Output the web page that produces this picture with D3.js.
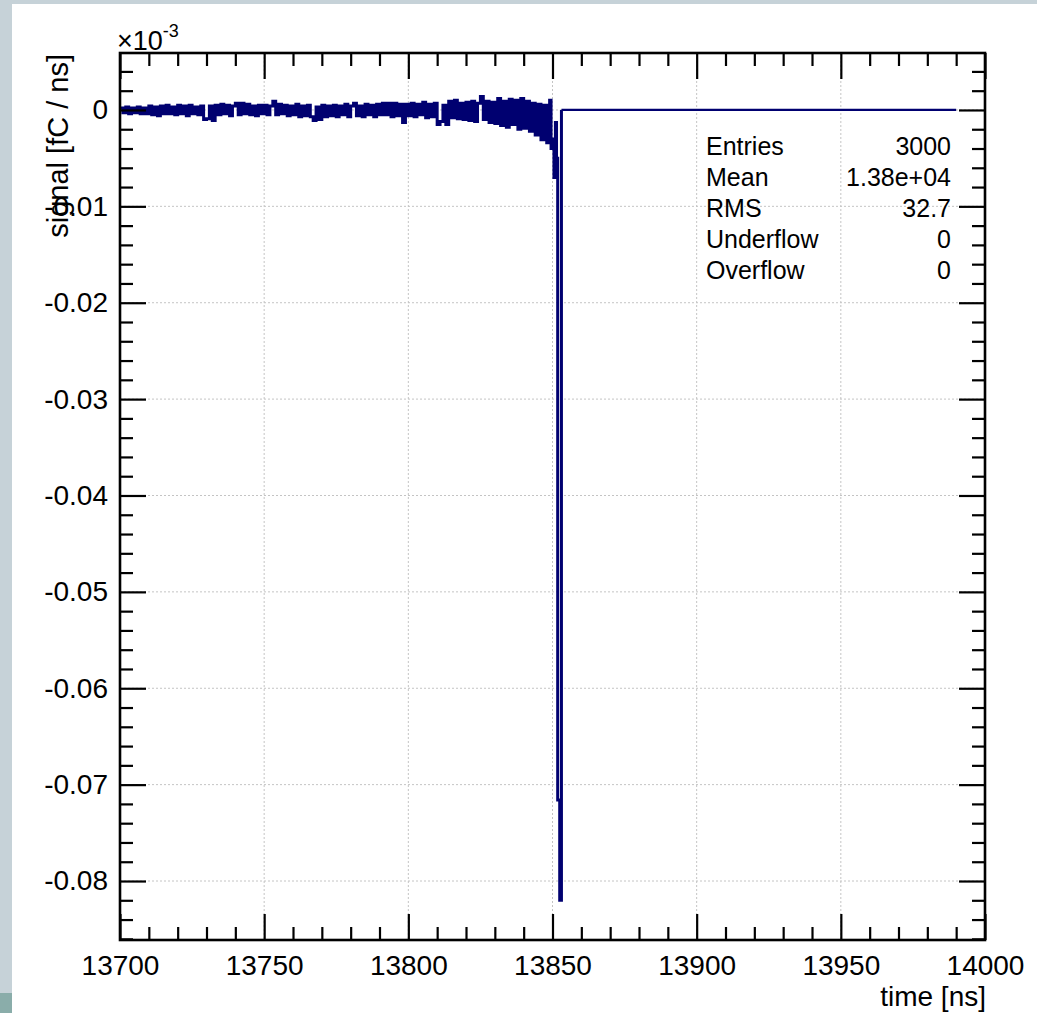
<!DOCTYPE html>
<html lang="en">
  <head>
    <meta charset="UTF-8" />
    <title>signal</title>
    <script src="https://d3js.org/d3.v7.min.js"></script>
    <style>
      body { margin: 0; background: #c6d2d8; }
      text { font-family: "Liberation Sans", Arial, sans-serif; }
    </style>
  </head>
  <body>
    <div id="graph"></div>
    <script>
      // tick labels
      const xTicks = [13700, 13750, 13800, 13850, 13900, 13950, 14000];
      const yTicks = [0, -0.01, -0.02, -0.03, -0.04, -0.05, -0.06, -0.07, -0.08];

      // 1 ns bins starting at 13700 (signal x 1e-3 fC/ns)
      const baseStart = 13700;
      const baseline = [
        0.0002, -0.0003, 0.0003, -0.0004, 0.0002, -0.0003, 0.0003, -0.0004, 0.0002, -0.0004,
        0.0004, -0.0005, 0.0003, -0.0006, 0.0004, -0.0004, 0.0005, -0.0004, 0.0003, -0.0005,
        0.0005, -0.0004, 0.0004, -0.0006, 0.0005, -0.0004, 0.0003, -0.0005, 0.0004, -0.0010,
        -0.0009, 0.0004, -0.0011, 0.0005, -0.0005, 0.0006, -0.0004, 0.0005, -0.0006, 0.0004,
        0.0007, -0.0005, 0.0007, -0.0004, 0.0006, -0.0005, 0.0004, -0.0006, 0.0005, -0.0004,
        0.0005, -0.0005, 0.0004, 0.0009, -0.0005, 0.0006, -0.0004, 0.0005, -0.0006, 0.0004,
        -0.0005, 0.0006, -0.0007, 0.0004, -0.0006, 0.0005, -0.0007, -0.0011, 0.0003, -0.0010,
        0.0005, -0.0007, 0.0004, -0.0006, 0.0005, -0.0007, 0.0004, -0.0005, 0.0006, -0.0007,
        0.0004, 0.0007, -0.0006, 0.0004, -0.0007, 0.0006, -0.0005, 0.0005, -0.0007, 0.0006,
        -0.0005, 0.0007, -0.0005, 0.0007, -0.0007, 0.0007, -0.0006, 0.0006, -0.0013, 0.0006,
        -0.0006, 0.0007, -0.0007, 0.0006, -0.0005, 0.0008, -0.0008, 0.0006, -0.0007, 0.0007,
        -0.0015, -0.0012, 0.0005, -0.0015, 0.0009, -0.0008, 0.0010, -0.0009, 0.0007, -0.0010,
        0.0008, -0.0011, 0.0009, -0.0012, 0.0007, 0.0014, -0.0010, 0.0009, -0.0013, 0.0008,
        -0.0014, 0.0012, -0.0016, 0.0009, -0.0018, 0.0011, -0.0015, 0.0010, -0.0020, 0.0012,
        -0.0019, 0.0009, -0.0022, 0.0007, -0.0026, 0.0006, -0.0031, 0.0005, -0.0034
      ];

      // the pulse, finer bins
      const pulseTime = [13849, 13849.5, 13850, 13850.5, 13851, 13851.4, 13851.8, 13852.5, 13853.1];
      const pulseValue = [0.0010, -0.0040, -0.0030, -0.0070, -0.0013, -0.0050, -0.0716, -0.0820, 0];
      const lastTime = 13990;

      const statNames = ["Entries", "Mean", "RMS", "Underflow", "Overflow"];
      const statValues = ["3000", "1.38e+04", "32.7", "0", "0"];

      var margin = { top: 53, right: 52, bottom: 73, left: 120 },
        width = 1037 - margin.left - margin.right,
        height = 1013 - margin.top - margin.bottom;

      var root = d3
        .select("#graph")
        .append("svg")
        .attr("width", 1037)
        .attr("height", 1013);

      // pad colours around the white canvas
      root.append("rect").attr("width", 1037).attr("height", 1013).attr("fill", "#c6d2d8");
      root.append("rect").attr("x", 0).attr("y", 993).attr("width", 12).attr("height", 20).attr("fill", "#8aadaa");
      root.append("rect").attr("x", 12).attr("y", 4).attr("width", 1025).attr("height", 1009).attr("fill", "white");

      var svg = root
        .append("g")
        .attr("transform", "translate(" + margin.left + "," + margin.top + ")");

      const x = d3.scaleLinear().domain([13700, 14000]).range([0, width]);
      const y = d3.scaleLinear().domain([-0.08612, 0.00591]).range([height, 0]);

      // grid
      svg
        .selectAll(".gx")
        .data(xTicks.slice(1, -1))
        .enter()
        .append("line")
        .attr("x1", (d) => x(d))
        .attr("x2", (d) => x(d))
        .attr("y1", 0)
        .attr("y2", height)
        .attr("stroke", "#c4c4c4")
        .attr("stroke-dasharray", "2,2");
      svg
        .selectAll(".gy")
        .data(yTicks)
        .enter()
        .append("line")
        .attr("x1", 0)
        .attr("x2", width)
        .attr("y1", (d) => y(d))
        .attr("y2", (d) => y(d))
        .attr("stroke", "#c4c4c4")
        .attr("stroke-dasharray", "2,2");

      // histogram as a step line
      var points = baseline.map((v, i) => [baseStart + i, v]);
      pulseTime.forEach((t, i) => points.push([t, pulseValue[i]]));
      var tail = [[pulseTime[pulseTime.length - 1], 0], [lastTime, 0]];

      var step = d3
        .line()
        .x((d) => x(d[0]))
        .y((d) => y(d[1]))
        .curve(d3.curveStepAfter);

      svg
        .append("path")
        .datum(points)
        .attr("fill", "none")
        .attr("stroke", "#000070")
        .attr("stroke-width", 3)
        .attr("d", step);
      svg
        .append("path")
        .datum(tail)
        .attr("fill", "none")
        .attr("stroke", "#000070")
        .attr("stroke-width", 2.2)
        .attr("d", step);

      // ticks
      const xMinor = d3.range(13710, 14000, 10).filter((d) => d % 50 != 0);
      const yMinor = d3.range(0.004, -0.0865, -0.002).filter((d) => Math.abs(Math.round(d * 500) % 5) != 0);
      const yFmt = (d) => (d == 0 ? "0" : d.toFixed(2));

      function styleAxis(g) {
        g.select(".domain").remove();
        g.selectAll("line").attr("stroke", "black").attr("stroke-width", 2.2);
        g.selectAll("text")
          .attr("fill", "black")
          .style("font-family", "'Liberation Sans', Arial, sans-serif")
          .style("font-size", "28px");
      }

      svg
        .append("g")
        .attr("transform", `translate(0, ${height})`)
        .call(d3.axisBottom(x).tickValues(xTicks).tickSize(-26).tickPadding(15).tickFormat(d3.format("d")))
        .call(styleAxis);
      svg
        .append("g")
        .attr("transform", `translate(0, ${height})`)
        .call(d3.axisBottom(x).tickValues(xMinor).tickSize(-13).tickFormat(""))
        .call(styleAxis);
      svg
        .append("g")
        .call(d3.axisTop(x).tickValues(xTicks).tickSize(-26).tickFormat(""))
        .call(styleAxis);
      svg
        .append("g")
        .call(d3.axisTop(x).tickValues(xMinor).tickSize(-13).tickFormat(""))
        .call(styleAxis);

      svg
        .append("g")
        .call(d3.axisLeft(y).tickValues(yTicks).tickSize(-26).tickPadding(12).tickFormat(yFmt))
        .call(styleAxis);
      svg
        .append("g")
        .call(d3.axisLeft(y).tickValues(yMinor).tickSize(-13).tickFormat(""))
        .call(styleAxis);
      svg
        .append("g")
        .attr("transform", `translate(${width}, 0)`)
        .call(d3.axisRight(y).tickValues(yTicks).tickSize(-26).tickFormat(""))
        .call(styleAxis);
      svg
        .append("g")
        .attr("transform", `translate(${width}, 0)`)
        .call(d3.axisRight(y).tickValues(yMinor).tickSize(-13).tickFormat(""))
        .call(styleAxis);

      // frame
      svg
        .append("rect")
        .attr("width", width)
        .attr("height", height)
        .attr("fill", "none")
        .attr("stroke", "black")
        .attr("stroke-width", 2.6);

      // axis titles
      svg
        .append("text")
        .attr("x", width + 1)
        .attr("y", height + 66)
        .attr("text-anchor", "end")
        .style("font-size", "28px")
        .text("time [ns]");
      svg
        .append("text")
        .attr("transform", "translate(-52, 1) rotate(-90)")
        .attr("text-anchor", "end")
        .style("font-size", "29px")
        .text("signal [fC / ns]");

      // exponent
      var expo = svg.append("text").attr("x", -3).attr("y", -3).style("font-size", "27px");
      expo.append("tspan").text("\u00d710");
      expo.append("tspan").attr("dy", -13).style("font-size", "18px").text("-3");

      // stats
      var stats = svg.append("g").attr("transform", "translate(0, 102)");
      stats
        .selectAll(".sn")
        .data(statNames)
        .enter()
        .append("text")
        .attr("x", 586)
        .attr("y", (d, i) => i * 31)
        .style("font-size", "25px")
        .text((d) => d);
      stats
        .selectAll(".sv")
        .data(statValues)
        .enter()
        .append("text")
        .attr("x", 831)
        .attr("y", (d, i) => i * 31)
        .attr("text-anchor", "end")
        .style("font-size", "25px")
        .text((d) => d);
    </script>
  </body>
</html>
